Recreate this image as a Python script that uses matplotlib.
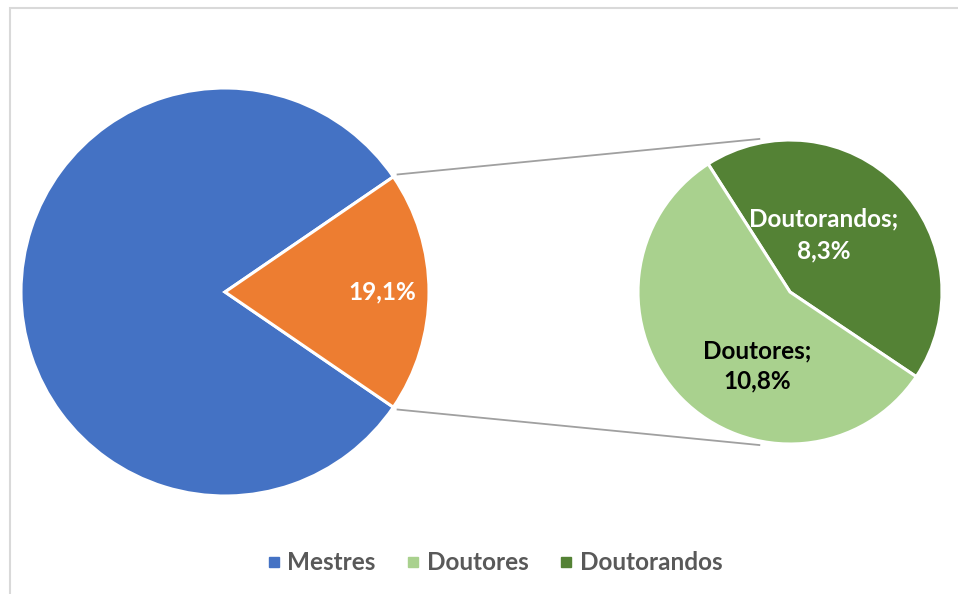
import numpy as np
import matplotlib
matplotlib.use("Agg")
import matplotlib.pyplot as plt
from matplotlib.patches import Rectangle
from matplotlib.lines import Line2D

# ---- data ----
main_labels = ["Mestres", "Outros"]
main_values = [80.9, 19.1]
sub_labels = ["Doutorandos", "Doutores"]
sub_values = [8.3, 10.8]
legend_labels = ["Mestres", "Doutores", "Doutorandos"]

c_blue = "#4472C4"
c_orange = "#ED7D31"
c_light = "#A9D18E"
c_dark = "#548235"

W, H = 958, 594
fig = plt.figure(figsize=(W / 100, H / 100), dpi=100)
ax = fig.add_axes([0, 0, 1, 1])

font = "Lato"

# main pie
mc = (225, 302)
mr = 204
half = main_values[1] / sum(main_values) * 360 / 2
ax.pie(main_values, colors=[c_blue, c_orange], startangle=half,
       center=mc, radius=mr, counterclock=True,
       wedgeprops=dict(edgecolor="white", linewidth=2.2))

# sub pie
sc = (790, 302)
sr = 152
ax.pie(sub_values, colors=[c_dark, c_light], startangle=122.6,
       center=sc, radius=sr, counterclock=False,
       wedgeprops=dict(edgecolor="white", linewidth=2.2))

# connector lines
for sgn in (1, -1):
    a = np.deg2rad(sgn * half)
    p0 = (mc[0] + (mr + 4) * np.cos(a), mc[1] + (mr + 4) * np.sin(a))
    b = np.deg2rad(sgn * 101)
    p1 = (sc[0] + (sr + 4) * np.cos(b), sc[1] + (sr + 4) * np.sin(b))
    ax.plot([p0[0], p1[0]], [p0[1], p1[1]], color="#a0a0a0", lw=1.3,
            solid_capstyle="butt", zorder=0)

# labels
fs = 17.5
ax.text(382, H - 292, "19,1%", color="white", fontsize=fs,
        fontweight="bold", family=font, ha="center", va="center")
ax.text(824, H - 235, "Doutorandos;\n8,3%", color="white", fontsize=fs,
        fontweight="bold", family=font, ha="center", va="center",
        linespacing=1.45)
ax.text(757, H - 366, "Doutores;\n10,8%", color="black", fontsize=fs,
        fontweight="bold", family=font, ha="center", va="center",
        linespacing=1.4)

ax.set_xlim(0, W)
ax.set_ylim(0, H)
ax.set_aspect("auto")
ax.axis("off")

# frame
fig.patches.append(Rectangle((10 / W, -0.05), 1.1, (H - 8) / H + 0.05,
                             transform=fig.transFigure, fill=False,
                             edgecolor="#d9d9d9", lw=1.5))

# legend
cols = {"Mestres": c_blue, "Doutores": c_light, "Doutorandos": c_dark}
handles = [Line2D([], [], marker="s", ls="", markersize=7,
                  markerfacecolor=cols[l], markeredgecolor=cols[l])
           for l in legend_labels]
leg = fig.legend(handles, legend_labels, loc="center",
                 bbox_to_anchor=(495 / W, 1 - 563 / H), ncol=3,
                 frameon=False, handlelength=0.5, handletextpad=0.3,
                 columnspacing=1.3,
                 prop=dict(family=font, weight="bold", size=17.5))
for t in leg.get_texts():
    t.set_color("#595959")

fig.savefig("out.png", dpi=100)
